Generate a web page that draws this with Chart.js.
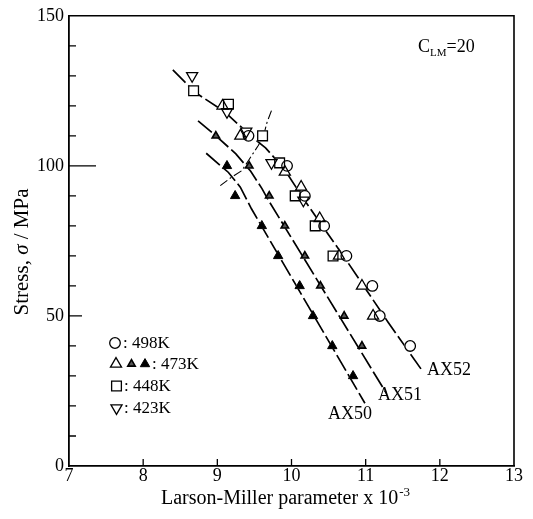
<!DOCTYPE html>
<html>
<head>
<meta charset="utf-8">
<script src="https://cdn.jsdelivr.net/npm/chart.js@4.4.0/dist/chart.umd.min.js"></script>
<style>
  html, body { margin: 0; padding: 0; background: #fff; }
  #wrap { width: 533px; height: 519px; }
</style>
</head>
<body>
<div id="wrap"><canvas id="c" width="533" height="519"></canvas></div>
<script>
// ---------- data ----------
// x: Larson-Miller parameter x 10^-3, y: stress (MPa)
// AX52 – open symbols
const lmp498 = [9.42, 9.94, 10.18, 10.44, 10.74, 11.09, 11.19, 11.60];
const sig498 = [110, 100, 90, 80, 70, 60, 50, 40];
const lmp473open = [9.07, 9.31, 9.91, 10.13, 10.38, 10.64, 10.95, 11.10];
const sig473open = [120, 110, 98, 93, 82.5, 70, 60, 50];
const lmp448 = [8.68, 9.15, 9.61, 9.84, 10.05, 10.32, 10.56];
const sig448 = [125, 120.5, 110, 101, 90, 80, 70];
const lmp423 = [8.66, 9.13, 9.39, 9.73, 10.16];
const sig423 = [130, 118, 111.5, 101, 88.5];
// AX51 – small filled triangles (473K)
const lmpAX51 = [8.98, 9.43, 9.70, 9.91, 10.18, 10.39, 10.71, 10.95];
const sigAX51 = [110, 100, 90, 80, 70, 60, 50, 40];
// AX50 – filled triangles (473K)
const lmpAX50 = [9.13, 9.24, 9.60, 9.82, 10.11, 10.29, 10.55, 10.83];
const sigAX50 = [100, 90, 80, 70, 60, 50, 40, 30];
// master curves
const curveAX52x = [8.40, 8.70, 9.10, 9.45, 9.65, 9.90, 10.15, 10.40, 10.70, 11.00, 11.30, 11.77];
const curveAX52y = [132, 124.5, 118, 110, 106, 99, 89.5, 80.5, 70, 59, 48, 31.5];
const curveAX51x = [8.74, 9.00, 9.25, 9.45, 9.60, 9.69, 11.28];
const curveAX51y = [115, 109.6, 104, 98.2, 92.5, 88.5, 24.2];
const curveAX50x = [8.85, 9.15, 9.31, 9.46, 10.99];
const curveAX50y = [104.2, 97.8, 92.9, 85.7, 20.9];
// dash-dot boundary curve
const boundaryX = [9.73, 9.67, 9.62, 9.55, 9.42, 9.33, 9.19, 9.04];
const boundaryY = [118.4, 114.5, 109.7, 106.7, 101.8, 98.4, 96.2, 93.4];
// axes
const xMin = 7, xMax = 13, yMin = 0, yMax = 150;
const xTickValues = [7, 8, 9, 10, 11, 12, 13];
const yTickValues = [0, 50, 100, 150];
const yMinorStep = 10;
// texts
const xTitle = 'Larson-Miller parameter x 10';
const xTitleSup = '-3';
const yTitleParts = ['Stress, ', 'σ', ' / MPa'];
const curveLabels = ['AX52', 'AX51', 'AX50'];
const legendLabels = [': 498K', ': 473K', ': 448K', ': 423K'];

// ---------- build ----------
const SERIF = "'Liberation Serif', 'Times New Roman', serif";
const pts = (xs, ys) => xs.map((v, i) => ({ x: v, y: ys[i] }));

const markerSets = [
  { data: pts(lmp498, sig498), style: 'circle', r: 5.3, rot: 0, fill: 'rgba(0,0,0,0)', bw: 1.3 },
  { data: pts(lmp473open, sig473open), style: 'triangle', r: 6.4, rot: 0, fill: 'rgba(0,0,0,0)', bw: 1.3 },
  { data: pts(lmp448, sig448), style: 'rect', r: 6.9, rot: 0, fill: 'rgba(0,0,0,0)', bw: 1.3 },
  { data: pts(lmp423, sig423), style: 'triangle', r: 6.4, rot: 180, fill: 'rgba(0,0,0,0)', bw: 1.3 },
  { data: pts(lmpAX51, sigAX51), style: 'triangle', r: 4.3, rot: 0, fill: '#555', bw: 1.6 },
  { data: pts(lmpAX50, sigAX50), style: 'triangle', r: 5.4, rot: 0, fill: '#000', bw: 1 }
];

const datasets = [];
// lines (bottom)
[[curveAX52x, curveAX52y], [curveAX51x, curveAX51y], [curveAX50x, curveAX50y]].forEach(([xs, ys]) => {
  datasets.push({ data: pts(xs, ys), showLine: true, borderColor: '#000', borderWidth: 1.7,
    borderDash: [18, 4], pointRadius: 0, fill: false, order: 3, tension: 0 });
});
datasets.push({ data: pts(boundaryX, boundaryY), showLine: true, borderColor: '#000', borderWidth: 1.1,
  borderDash: [9, 3, 2, 3], pointRadius: 0, fill: false, order: 3, tension: 0 });
// white masks so the curves break at the symbols
markerSets.forEach(m => {
  datasets.push({ data: m.data, showLine: false, pointStyle: m.style, pointRadius: m.r + 0.6,
    pointRotation: m.rot, pointBackgroundColor: '#fff', pointBorderColor: '#fff', pointBorderWidth: 0, order: 2 });
});
// symbols (top)
markerSets.forEach(m => {
  datasets.push({ data: m.data, showLine: false, pointStyle: m.style, pointRadius: m.r,
    pointRotation: m.rot, pointBackgroundColor: m.fill, pointBorderColor: '#000', pointBorderWidth: m.bw, order: 1 });
});

function drawSym(ctx, m, x, y) {
  ctx.save();
  ctx.fillStyle = m.fill; ctx.strokeStyle = '#000'; ctx.lineWidth = m.bw;
  Chart.helpers.drawPoint(ctx, { pointStyle: m.style, radius: m.r, rotation: m.rot, borderWidth: m.bw }, x, y);
  ctx.restore();
}

const decor = {
  id: 'decor',
  afterDraw(chart) {
    const { ctx, chartArea: a, scales: { x, y } } = chart;
    ctx.save();
    // frame top/right
    ctx.strokeStyle = '#000'; ctx.lineWidth = 1.6;
    ctx.beginPath();
    ctx.moveTo(a.left, a.top); ctx.lineTo(a.right, a.top); ctx.lineTo(a.right, a.bottom);
    ctx.stroke();
    // inward ticks
    ctx.lineWidth = 1.3;
    ctx.beginPath();
    xTickValues.forEach(v => {
      if (v === xMin || v === xMax) return;
      const px = x.getPixelForValue(v);
      ctx.moveTo(px, a.bottom); ctx.lineTo(px, a.bottom - 7);
    });
    for (let v = yMin + yMinorStep; v < yMax; v += yMinorStep) {
      const py = y.getPixelForValue(v);
      const len = v === 100 ? 27 : (v === 50 ? 13 : 7);
      ctx.moveTo(a.left, py); ctx.lineTo(a.left + len, py);
    }
    ctx.stroke();

    ctx.fillStyle = '#000';
    // x title with superscript
    ctx.font = '20px ' + SERIF;
    ctx.textBaseline = 'alphabetic'; ctx.textAlign = 'left';
    const w1 = ctx.measureText(xTitle).width;
    ctx.font = '13px ' + SERIF;
    const w2 = ctx.measureText(xTitleSup).width;
    const xs = 285 - (w1 + w2) / 2;
    ctx.font = '20px ' + SERIF;
    ctx.fillText(xTitle, xs, 504);
    ctx.font = '13px ' + SERIF;
    ctx.fillText(xTitleSup, xs + w1 + 1, 496);

    // y title (rotated, italic sigma)
    ctx.save();
    ctx.translate(28, 252);
    ctx.rotate(-Math.PI / 2);
    const fonts = ['21px ' + SERIF, 'italic 21px ' + SERIF, '21px ' + SERIF];
    let tw = 0; const ws = [];
    yTitleParts.forEach((t, i) => { ctx.font = fonts[i]; ws.push(ctx.measureText(t).width); tw += ws[i]; });
    let cx = -tw / 2;
    yTitleParts.forEach((t, i) => { ctx.font = fonts[i]; ctx.fillText(t, cx, 0); cx += ws[i]; });
    ctx.restore();

    // C_LM = 20
    ctx.font = '18px ' + SERIF;
    ctx.fillText('C', 418, 52);
    let cw = ctx.measureText('C').width;
    ctx.font = '11px ' + SERIF;
    ctx.fillText('LM', 418 + cw, 56);
    cw += ctx.measureText('LM').width;
    ctx.font = '18px ' + SERIF;
    ctx.fillText('=20', 418 + cw, 52);

    // curve labels
    ctx.font = '18px ' + SERIF;
    ctx.textBaseline = 'middle';
    ctx.fillText(curveLabels[0], 427, 370);
    ctx.fillText(curveLabels[1], 378, 395);
    ctx.fillText(curveLabels[2], 328, 414);

    // legend
    ctx.font = '17px ' + SERIF;
    drawSym(ctx, markerSets[0], 115, 343);
    ctx.fillText(legendLabels[0], 123, 344);
    drawSym(ctx, markerSets[1], 116, 364);
    drawSym(ctx, markerSets[4], 131.5, 364);
    drawSym(ctx, markerSets[5], 145, 364);
    ctx.fillText(legendLabels[1], 152, 365);
    drawSym(ctx, markerSets[2], 116.5, 386);
    ctx.fillText(legendLabels[2], 124, 387);
    drawSym(ctx, markerSets[3], 116.5, 408);
    ctx.fillText(legendLabels[3], 124, 409);
    ctx.restore();
  }
};

new Chart(document.getElementById('c'), {
  type: 'scatter',
  data: { datasets },
  options: {
    responsive: false,
    animation: false,
    devicePixelRatio: 1,
    layout: { padding: { left: 0, top: 15, right: 19, bottom: 0 } },
    plugins: { legend: { display: false }, tooltip: { enabled: false } },
    scales: {
      x: {
        type: 'linear', min: xMin, max: xMax,
        afterBuildTicks: s => { s.ticks = xTickValues.map(v => ({ value: v })); },
        ticks: { color: '#000', font: { family: SERIF, size: 18 }, padding: -1, maxRotation: 0, autoSkip: false },
        grid: { display: false, drawTicks: false },
        border: { display: true, color: '#000', width: 1.8 },
        afterFit: s => { s.height = 53; }
      },
      y: {
        type: 'linear', min: yMin, max: yMax,
        afterBuildTicks: s => { s.ticks = yTickValues.map(v => ({ value: v })); },
        ticks: { color: '#000', font: { family: SERIF, size: 18 }, padding: 5, autoSkip: false },
        grid: { display: false, drawTicks: false },
        border: { display: true, color: '#000', width: 1.8 },
        afterFit: s => { s.width = 69; }
      }
    }
  },
  plugins: [decor]
});
</script>
</body>
</html>
